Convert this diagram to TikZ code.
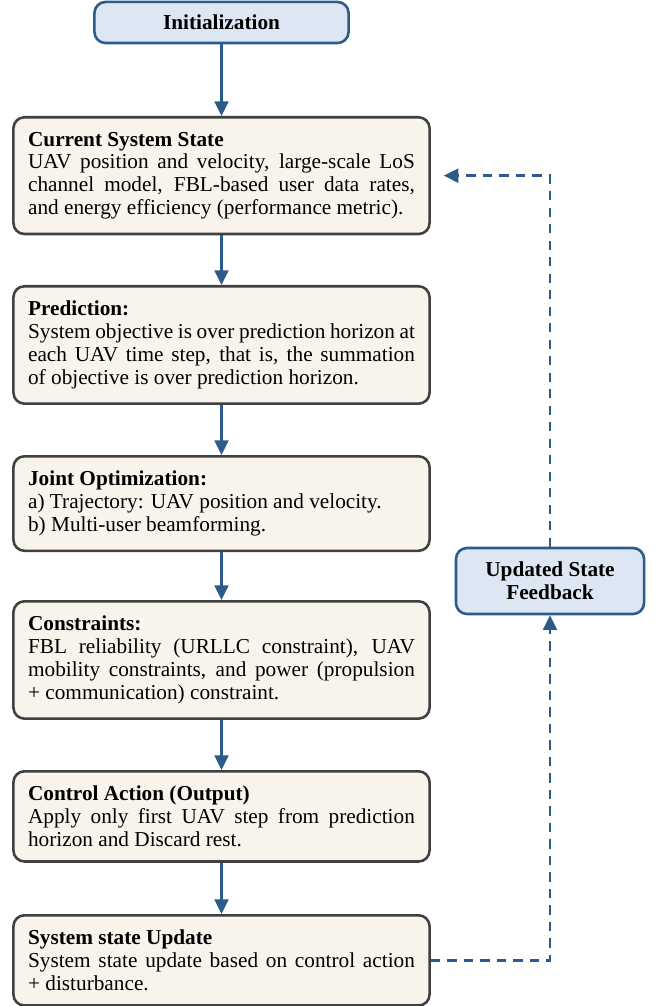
\documentclass[tikz,border=0pt]{standalone}
\usepackage{fontspec}
\setmainfont{Liberation Serif}
\usepackage[dvipsnames]{xcolor}
\definecolor{color1}{RGB}{44, 90, 138}
\definecolor{color2}{RGB}{220, 231, 243}
\definecolor{color3}{RGB}{248, 244, 236}
\definecolor{color4}{RGB}{64, 64, 64}
\usepackage{tikz}
\usetikzlibrary{arrows.meta}

\begin{document}
\begin{tikzpicture}[x=0.5455pt, y=-0.5455pt,
		stagebox/.style={draw=color4, fill=color3, line width=1.4pt, rounded corners=6pt, text width=211pt, align=justify, inner xsep=8pt, inner ysep=8pt, anchor=north, font=\fontsize{11.6}{12.5}\selectfont},
		bluebox/.style={draw=color1, fill=color2, line width=1.4pt, rounded corners=6pt, align=center, font=\fontsize{11.6}{12.4}\selectfont\bfseries},
		flow/.style={draw=color1, line width=1.6pt, -{Triangle[length=8pt, width=7.5pt]}},
		back/.style={flow, dashed, dash pattern=on 5pt off 4pt}]
		\useasboundingbox (0,0) rectangle (654,1006);
		\node[bluebox, minimum width=138.6pt, minimum height=22.4pt] (init) at (221.5, 22.5) {Initialization};
		\node[stagebox] (state) at (221.5, 116) {\textbf{Current System State}\\UAV position and velocity, large-scale LoS\linebreak channel model, FBL-based user data rates,\linebreak and energy efficiency (performance metric).};
		\node[stagebox] (pred) at (221.5, 285) {\textbf{Prediction:}\\System objective is over prediction horizon at\linebreak each UAV time step, that is, the summation\linebreak of objective is over prediction horizon.};
		\node[stagebox] (opt) at (221.5, 455) {\textbf{Joint Optimization:}\\a) Trajectory: UAV position and velocity.\\b) Multi-user beamforming.};
		\node[stagebox] (cons) at (221.5, 600) {\textbf{Constraints:}\\FBL reliability (URLLC constraint), UAV\linebreak mobility constraints, and power (propulsion\linebreak + communication) constraint.};
		\node[stagebox] (act) at (221.5, 770) {\textbf{Control Action (Output)}\\Apply only first UAV step from prediction\linebreak horizon and Discard rest.};
		\node[stagebox] (upd) at (221.5, 914) {\textbf{System state Update}\\System state update based on control action\linebreak + disturbance.};
		\node[bluebox, minimum width=102.6pt, minimum height=36pt] (fb) at (550, 581) {Updated State\\Feedback};
		% main chain
		\draw[flow] (init) -- (state);
		\draw[flow] (state) -- (pred);
		\draw[flow] (pred) -- (opt);
		\draw[flow] (opt) -- (cons);
		\draw[flow] (cons) -- (act);
		\draw[flow] (act) -- (upd);
		% feedback loop
		\draw[back] (upd.east) -| (fb.south);
		\coordinate (tip) at ([xshift=7pt]state.east);
		\draw[back] (fb.north) |- (tip);
	\end{tikzpicture}
\end{document}
